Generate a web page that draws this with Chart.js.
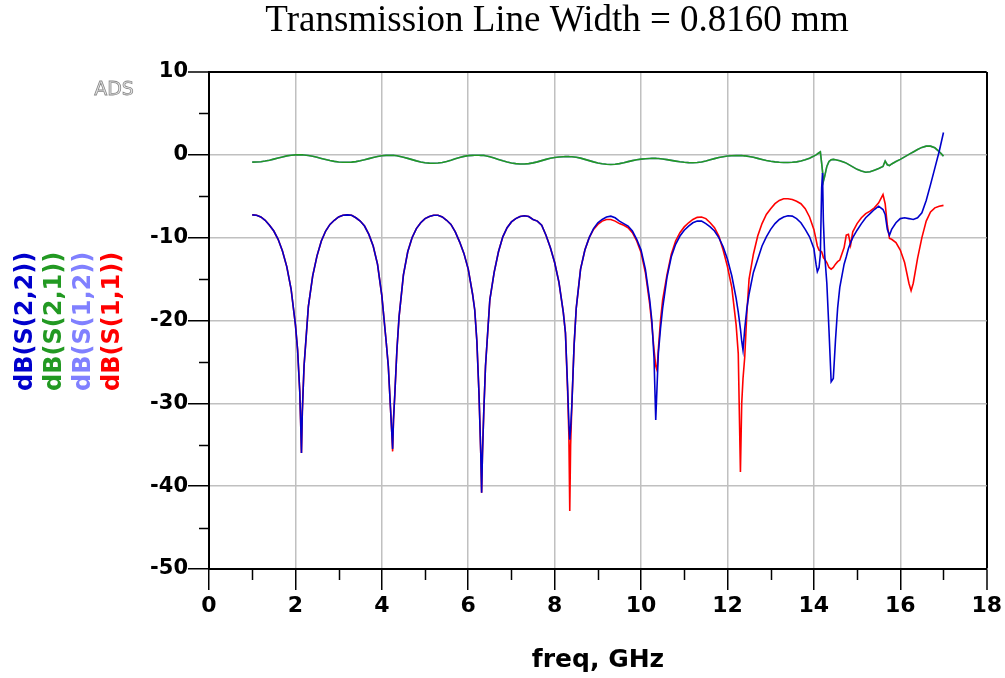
<!DOCTYPE html>
<html>
<head>
<meta charset="utf-8">
<script src="https://cdn.jsdelivr.net/npm/chart.js@4/dist/chart.umd.min.js"></script>
<style>
html,body{margin:0;padding:0;background:#fff;}
#wrap{width:1005px;height:678px;}
</style>
</head>
<body>
<div id="wrap"><canvas id="sparams" width="1005" height="678"></canvas></div>
<script>
// frequency grid (GHz), denser around the resonance dips
const freq=[
1.0,1.1,1.2,1.3,1.4,1.5,1.6,1.7,1.8,1.9,2.0,
2.05,2.1,2.12,2.14,2.16,2.2,
2.3,2.4,2.5,2.6,2.7,2.8,2.9,3.0,3.1,3.2,3.3,3.4,3.5,3.6,3.7,3.8,3.9,4.0,4.1,
4.15,4.2,4.23,4.25,4.27,4.3,4.35,4.4,
4.5,4.6,4.7,4.8,4.9,5.0,5.1,5.2,5.3,5.4,5.5,5.6,5.7,5.8,5.9,6.0,6.1,
6.15,6.2,6.25,6.29,6.31,6.33,6.36,6.4,
6.5,6.6,6.7,6.8,6.9,7.0,7.1,7.2,7.3,7.4,7.5,7.6,7.7,7.8,7.9,8.0,8.1,8.2,
8.25,8.3,8.33,8.35,8.37,8.4,8.45,8.5,
8.6,8.7,8.8,8.9,9.0,9.1,9.2,9.3,9.4,9.5,9.6,9.7,9.8,9.9,10.0,10.1,10.2,
10.25,10.3,10.34,10.37,10.4,10.45,10.5,
10.6,10.7,10.8,10.9,11.0,11.1,11.2,11.3,11.4,11.5,11.6,11.7,11.8,11.9,12.0,12.1,12.2,
12.25,12.3,12.33,12.36,12.4,12.45,12.5,
12.6,12.7,12.8,12.9,13.0,13.1,13.2,13.3,13.4,13.5,13.6,13.7,13.8,13.9,14.0,
14.05,14.08,14.12,14.15,14.18,14.2,14.22,14.25,14.3,14.35,14.4,14.45,14.5,14.55,14.6,
14.7,14.75,14.8,14.85,14.9,15.0,15.1,15.2,15.3,15.4,15.5,15.6,
15.65,15.7,15.75,15.8,15.9,16.0,16.1,16.2,16.25,16.3,16.4,16.5,16.6,16.7,16.8,16.9,17.0
];

// dB(S(2,2)) - blue
const s22=[
-7.25,-7.3,-7.5,-7.9,-8.5,-9.2,-10.2,-11.6,-13.5,-16.2,-20.5,
-23.5,-28.5,-32,-36,-31,-25.5,
-18.3,-14.6,-12.2,-10.4,-9.2,-8.4,-7.9,-7.5,-7.3,-7.25,-7.3,-7.6,-8.0,-8.6,-9.6,-11.0,-13.2,-17.0,-22.5,
-25.5,-30.5,-33.5,-35.5,-32,-29,-23.5,-19.5,
-14.5,-11.7,-10.0,-8.9,-8.2,-7.7,-7.45,-7.3,-7.3,-7.5,-7.9,-8.4,-9.3,-10.5,-11.9,-13.8,-16.8,
-18.7,-22.5,-29,-36,-40.8,-36,-31,-25.5,
-17.5,-14.2,-11.7,-9.9,-8.8,-8.1,-7.7,-7.45,-7.35,-7.45,-7.8,-8.0,-8.5,-9.7,-11.2,-13.0,-15.4,-19.0,
-21.5,-28.0,-32.5,-34.4,-33,-30,-23,-18.5,
-13.8,-11.5,-10.0,-8.9,-8.2,-7.8,-7.5,-7.4,-7.6,-8.0,-8.3,-8.6,-9.2,-10.2,-11.5,-13.8,-17.5,
-20,-24.5,-32,-28,-24,-21,-18.5,
-14.8,-12.3,-10.8,-9.8,-9.1,-8.6,-8.2,-8.0,-8.0,-8.3,-8.7,-9.2,-10.0,-11.1,-12.6,-14.6,-17.3,
-19,-21,-22.5,-23.6,-21,-18.5,-16.8,
-14.2,-12.6,-11.0,-9.9,-9.0,-8.3,-7.8,-7.5,-7.35,-7.4,-7.7,-8.2,-9.0,-9.9,-11.3,
-13.2,-14.1,-13.6,-12.0,-4.0,-2.2,-8.0,-12.0,-15.5,-21.2,-27.4,-27.0,-22.4,-18.5,-16.0,
-13.2,-12.3,-11.3,-10.6,-10.0,-9.1,-8.3,-7.6,-7.1,-6.6,-6.2,-6.6,
-7.2,-9.0,-9.7,-9.0,-8.2,-7.7,-7.6,-7.7,-7.75,-7.8,-7.6,-7.0,-5.5,-3.6,-1.6,0.4,2.7
];

// dB(S(1,1)) - red
const s11=[
-7.25,-7.3,-7.5,-7.9,-8.5,-9.2,-10.2,-11.6,-13.5,-16.2,-20.5,
-23.5,-28.5,-32,-36,-31,-25.5,
-18.3,-14.6,-12.2,-10.4,-9.2,-8.4,-7.9,-7.5,-7.3,-7.25,-7.3,-7.6,-8.0,-8.6,-9.6,-11.0,-13.2,-17.0,-22.5,
-25.5,-30.5,-33.5,-35.8,-32,-29,-23.5,-19.5,
-14.5,-11.7,-10.0,-8.9,-8.2,-7.7,-7.45,-7.3,-7.3,-7.5,-7.9,-8.4,-9.3,-10.5,-11.9,-13.8,-16.8,
-18.7,-22.5,-29,-36,-40.8,-36,-31,-25.5,
-17.5,-14.2,-11.7,-9.9,-8.8,-8.1,-7.7,-7.45,-7.35,-7.45,-7.8,-8.0,-8.5,-9.7,-11.2,-13.0,-15.4,-19.0,
-21.5,-28.5,-34,-43,-35,-30,-23,-18.5,
-13.8,-11.5,-10.0,-9.0,-8.4,-8.0,-7.8,-7.8,-8.0,-8.3,-8.5,-8.8,-9.4,-10.4,-11.8,-14.2,-18.0,
-20.5,-23.5,-25.5,-26,-23.5,-20,-17.5,
-14.5,-12.0,-10.4,-9.4,-8.7,-8.2,-7.8,-7.55,-7.5,-7.7,-8.2,-8.8,-9.8,-11.5,-13.5,-16.0,-20.5,
-24,-38.3,-30,-27,-24.4,-19,-15.0,
-12.0,-9.8,-8.3,-7.2,-6.5,-5.9,-5.5,-5.3,-5.3,-5.4,-5.6,-5.9,-6.5,-7.5,-9.0,
-10.2,-11.0,-11.5,-11.6,-11.7,-12.0,-12.4,-12.6,-13.0,-13.6,-13.8,-13.6,-13.2,-12.9,-12.7,
-11.2,-9.7,-9.6,-10.9,-9.3,-8.3,-7.6,-7.1,-6.8,-6.4,-5.8,-4.8,
-5.9,-8.5,-10.1,-10.2,-10.6,-11.5,-13.0,-15.5,-16.4,-15.5,-12.5,-10.0,-8.0,-6.9,-6.4,-6.2,-6.1
];

// dB(S(2,1)) - green
const s21=[
-0.88,-0.87,-0.83,-0.75,-0.65,-0.52,-0.38,-0.25,-0.13,-0.05,-0.01,
0,0,0,0,0,-0.02,
-0.08,-0.18,-0.3,-0.44,-0.57,-0.69,-0.79,-0.86,-0.89,-0.9,-0.88,-0.82,-0.72,-0.6,-0.46,-0.32,-0.2,-0.11,-0.07,
-0.06,-0.06,-0.06,-0.06,-0.07,-0.09,-0.12,-0.17,
-0.29,-0.43,-0.58,-0.73,-0.86,-0.95,-1.0,-1.02,-0.99,-0.92,-0.8,-0.65,-0.48,-0.32,-0.19,-0.1,-0.06,
-0.05,-0.05,-0.05,-0.06,-0.06,-0.06,-0.07,-0.12,
-0.23,-0.38,-0.55,-0.72,-0.87,-0.98,-1.06,-1.1,-1.1,-1.06,-0.97,-0.85,-0.7,-0.55,-0.42,-0.32,-0.26,-0.23,
-0.22,-0.22,-0.22,-0.23,-0.23,-0.24,-0.27,-0.3,
-0.4,-0.55,-0.7,-0.85,-0.98,-1.08,-1.14,-1.16,-1.13,-1.06,-0.95,-0.82,-0.7,-0.6,-0.52,-0.47,-0.44,
-0.43,-0.43,-0.43,-0.44,-0.45,-0.47,-0.5,
-0.58,-0.67,-0.76,-0.84,-0.9,-0.94,-0.95,-0.93,-0.86,-0.74,-0.6,-0.46,-0.33,-0.23,-0.15,-0.11,-0.09,
-0.09,-0.09,-0.1,-0.11,-0.12,-0.16,-0.2,
-0.3,-0.43,-0.56,-0.68,-0.78,-0.85,-0.9,-0.92,-0.92,-0.9,-0.85,-0.75,-0.6,-0.4,-0.15,
0.0,0.1,0.25,0.35,-1.0,-2.0,-3.2,-2.6,-1.4,-0.8,-0.6,-0.55,-0.6,-0.65,-0.72,
-0.9,-1.0,-1.15,-1.3,-1.45,-1.75,-1.95,-2.1,-2.05,-1.85,-1.65,-1.4,
-0.75,-1.2,-1.3,-1.1,-0.8,-0.55,-0.25,0.05,0.2,0.35,0.65,0.9,1.05,1.05,0.85,0.4,-0.15
];

// dB(S(1,2)) - reciprocal line, lies under S(2,1)
const s12=s21;

const traceNames=["dB(S(2,2))","dB(S(2,1))","dB(S(1,2))","dB(S(1,1))"];
const traceColors=["#0000cc","#229922","#8080ff","#ff0000"];
const traceValues=[s22,s21,s12,s11];

const xTicks=[0,2,4,6,8,10,12,14,16,18];
const yTicks=[-50,-40,-30,-20,-10,0,10];

const GRID="#c0c0c0";

function pts(vals){
  return freq.map((f,i)=>({x:f,y:vals[i]}));
}

const decor={
  id:"decor",
  afterDraw(chart){
    const c=chart.ctx, xs=chart.scales.x, ys=chart.scales.y, a=chart.chartArea;
    c.save();
    // minor ticks
    c.strokeStyle="#000";c.lineWidth=1.5;
    c.beginPath();
    for(let v=1;v<18;v+=2){
      const px=Math.round(xs.getPixelForValue(v))+0.5;
      c.moveTo(px,a.bottom);c.lineTo(px,a.bottom+11);
    }
    for(let v=-45;v<10;v+=10){
      const py=Math.round(ys.getPixelForValue(v))+0.5;
      c.moveTo(a.left,py);c.lineTo(a.left-10,py);
    }
    c.stroke();

    // title
    c.fillStyle="#000";
    c.font='37px "Liberation Serif"';
    c.textAlign="center";c.textBaseline="middle";
    c.fillText("Transmission Line Width = 0.8160 mm",557,21);

    // x axis label
    c.font='bold 25px "DejaVu Sans"';
    c.fillText("freq, GHz",598,660);

    // ADS mark
    c.font='19px "DejaVu Sans"';
    c.fillStyle="#e8e8e8";c.strokeStyle="#8a8a8a";c.lineWidth=0.8;
    c.fillText("ADS",114,90);
    c.strokeText("ADS",114,90);

    // rotated trace names
    c.font='bold 24px "DejaVu Sans"';
    c.textAlign="left";
    const xs0=[26,55,84,113];
    traceNames.forEach((t,i)=>{
      c.save();
      c.translate(xs0[i],391);
      c.rotate(-Math.PI/2);
      c.fillStyle=traceColors[i];
      c.fillText(t,0,0);
      c.restore();
    });
    c.restore();
  }
};

new Chart(document.getElementById("sparams"),{
  type:"line",
  data:{
    datasets:traceNames.map((n,i)=>({
      label:n,
      data:pts(traceValues[i]),
      borderColor:traceColors[i],
      borderWidth:1.6,
      pointRadius:0,
      tension:0,
      fill:false
    }))
  },
  options:{
    responsive:false,
    animation:false,
    layout:{padding:{top:72,right:18,left:0,bottom:0}},
    plugins:{legend:{display:false},title:{display:false},tooltip:{enabled:false}},
    scales:{
      x:{
        type:"linear",min:0,max:18,
        afterFit(s){s.height=109;},
        afterBuildTicks(s){s.ticks=xTicks.map(v=>({value:v}));},
        border:{color:"#000",width:2},
        grid:{
          color:c=>c.tick&&c.tick.value===18?"#000":GRID,
          lineWidth:c=>c.tick&&c.tick.value===18?2:1.5,
          tickColor:"#000",tickLength:21,tickWidth:1.5
        },
        ticks:{
          color:"#000",padding:3,maxRotation:0,autoSkip:false,
          font:{family:"DejaVu Sans",weight:"bold",size:22}
        }
      },
      y:{
        min:-50,max:10,
        afterFit(s){s.width=209;},
        afterBuildTicks(s){s.ticks=yTicks.map(v=>({value:v}));},
        border:{color:"#000",width:2},
        grid:{
          color:c=>c.tick&&c.tick.value===10?"#000":GRID,
          lineWidth:c=>c.tick&&c.tick.value===10?2:1.5,
          tickColor:"#000",tickLength:21,tickWidth:1.5
        },
        ticks:{
          color:"#000",padding:0,autoSkip:false,
          font:{family:"DejaVu Sans",weight:"bold",size:21}
        }
      }
    }
  },
  plugins:[decor]
});
</script>
</body>
</html>
